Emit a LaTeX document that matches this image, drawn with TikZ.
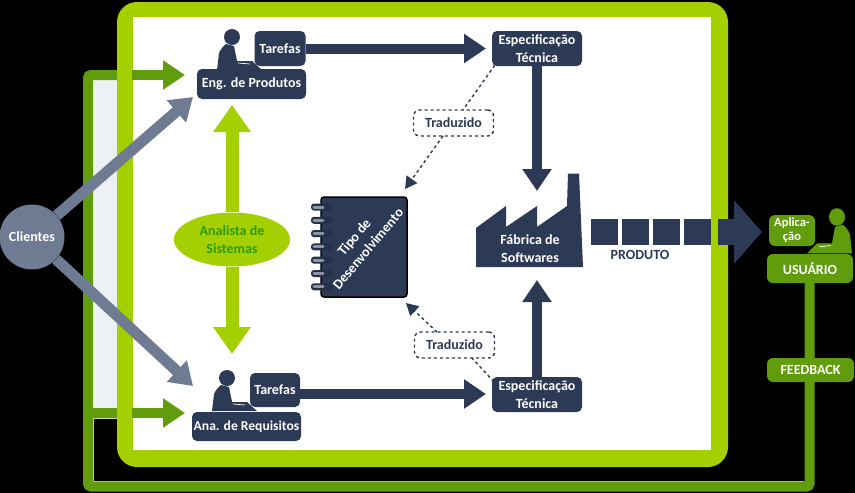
\documentclass[tikz,border=0pt]{standalone}
\usepackage{fontspec}
\setmainfont{Carlito}
\usetikzlibrary{shapes,arrows.meta,positioning,calc}
\definecolor{navy}{HTML}{2D3A55}
\definecolor{lime}{HTML}{A5D000}
\definecolor{leaf}{HTML}{609C0C}
\definecolor{slate}{HTML}{6F7B92}
\definecolor{pale}{HTML}{EEF1F3}
\definecolor{grass}{HTML}{2E9A00}
\tikzset{
    label/.style={
        inner sep=0pt,
        align=center,
        font=\fontsize{14}{18}\selectfont\bfseries
    },
    block/.style={
        label,
        rectangle,
        fill=navy,
        text=white,
        rounded corners=5pt
    },
    greenblock/.style={
        block,
        fill=leaf,
        rounded corners=6pt
    },
    note/.style={
        label,
        rectangle,
        draw=navy,
        dashed,
        line width=1.4pt,
        rounded corners=6pt,
        fill=white,
        text=navy,
        minimum width=80pt,
        minimum height=26pt
    },
    arrow/.style={
        -{Triangle[length=22pt,width=28pt]},
        line width=10pt,
        navy
    },
    clientarrow/.style={
        -{Triangle[length=22pt,width=28pt]},
        line width=11pt,
        slate
    },
    limearrow/.style={
        -{Triangle[length=27pt,width=36pt]},
        line width=13pt,
        lime
    },
    loopline/.style={
        line width=10pt,
        leaf
    },
    looparrow/.style={
        -{Triangle[length=22pt,width=28pt]},
        line width=10pt,
        leaf
    },
    traduz/.style={
        -{Triangle[length=12pt,width=13pt]},
        dashed,
        line width=1.4pt,
        navy
    },
    person/.pic={
        \fill[pic actions] (0,0) circle (8);
        \fill[pic actions] (-15,33) -- (-13,16) .. controls (-11,11) and (-8,9) .. (-6,7)
            -- (2,9) -- (5,24) -- (20,24) -- (30,33) -- cycle;
        \draw[white,line width=0.7pt] (6,26) -- (18,27);
    }
}

\begin{document}
\begin{tikzpicture}[x=1pt,y=-1pt]
    \useasboundingbox[fill=black] (0,0) rectangle (855,493);

    % Feedback loop behind the frame
    \coordinate (loopstart) at (809.5,283);
    \coordinate (loopright) at (809.5,486.5);
    \coordinate (loopbot) at (88,486.5);
    \coordinate (looptop) at (88,75);
    \coordinate (loopmid) at (88,413);
    \coordinate (framea) at (130,75);
    \coordinate (frameb) at (130,413);
    \coordinate (engin) at (185,75);
    \coordinate (anain) at (185,413);
    \fill[pale] (93,80) rectangle (118,408);
    \draw[pale!70!leaf, line width=0.6pt] (118,418.5) -- (93.5,418.5) -- (93.5,481.5) -- (804,481.5);
    \draw[loopline, rounded corners=3pt] (loopstart) -- (loopright) -- (loopbot) -- (looptop) -- (framea);
    \draw[loopline] (loopmid) -- (frameb);

    % Frame
    \fill[lime, rounded corners=20pt] (117,2) rectangle (728,467);
    \fill[white] (133,17) rectangle (711,450);
    \draw[looparrow] (132,75) -- (engin);
    \draw[looparrow] (132,413) -- (anain);

    % Nodes
    \node (eng) [block, minimum width=109pt, minimum height=30pt] at (251.5,84) {Eng. de Produtos};
    \node (tarefasa) [block, minimum width=51pt, minimum height=35pt] at (280,48.5) {Tarefas};
    \node (ana) [block, minimum width=109pt, minimum height=29pt,
        font=\fontsize{13.6}{18}\selectfont\bfseries] at (246.5,426.5) {Ana. de Requisitos};
    \node (tarefasb) [block, minimum width=50pt, minimum height=34pt] at (275,390) {Tarefas};
    \node (espa) [block, minimum width=90pt, minimum height=35pt] at (537,48.5) {Especificação\\Técnica};
    \node (espb) [block, minimum width=90pt, minimum height=35pt] at (537,394.5) {Especificação\\Técnica};
    \node (tradua) [note] at (453.5,123) {Traduzido};
    \node (tradub) [note] at (454.5,345) {Traduzido};
    \node (analista) [label, ellipse, fill=lime, text=grass, minimum width=116pt,
        minimum height=54pt] at (232,239.5) {Analista de\\Sistemas};
    \node (clientes) [label, circle, fill=slate, text=white, minimum size=65pt] at (32,237) {Clientes};

    % People at the desks
    \pic[fill=navy] at (232,37) {person};
    \pic[fill=navy] at (227,378) {person};
    \pic[fill=leaf, xscale=-1, yscale=1.1] at (837,217) {person};

    % Notebook
    \node (caderno) [rectangle, draw=black, fill=navy, line width=1.5pt, rounded corners=3pt,
        minimum width=86pt, minimum height=100pt, inner sep=0pt] at (364,247) {};
    \foreach \n in {0,...,6} {
        \fill[navy!85!black, rounded corners=3pt] (311,203.5+13.3*\n) rectangle (333,210.5+13.3*\n);
        \draw[slate!80!white, line width=3pt, line cap=round] (314,207+13.3*\n) -- (323,207+13.3*\n);
    }
    \node (tipo) [label, rotate=50, text=white] at (361,243) {Tipo de\\Desenvolvimento};

    % Factory
    \fill[navy] (476,267) -- (476,228) -- (506,206) -- (506,227) -- (537,206) -- (537,227)
        -- (567,206) -- (568,173.5) -- (579,173.5) -- (583,267) -- cycle;
    \node (fabrica) [label, text=white] at (530,249) {Fábrica de\\Softwares};

    % Product blocks
    \foreach \x in {591,622,653,684} {
        \fill[navy] (\x,219) rectangle ++(27,26);
    }
    \coordinate (prodstart) at (718,232);
    \coordinate (prodend) at (762,232);
    \draw[-{Triangle[length=28pt,width=62pt]}, line width=26pt, navy] (prodstart) -- (prodend);
    \node (produto) [label, text=navy] at (640,255) {PRODUTO};

    % User side
    \node (aplic) [greenblock, minimum width=46pt, minimum height=31pt,
        font=\fontsize{12.5}{14}\selectfont\bfseries] at (792,230.5) {Aplica-\\ção};
    \node (usuario) [greenblock, minimum width=86pt, minimum height=29pt] at (810,268.5) {USUÁRIO};
    \node (feedback) [greenblock, minimum width=87pt, minimum height=24pt] at (810.5,370) {FEEDBACK};

    % Arrows
    \draw[arrow] (tarefasa.east) -- (486,48.5);
    \draw[arrow] (tarefasb.east) ++(0,4) -- (486,394);
    \draw[arrow] (espa.south) -- (537,191);
    \draw[arrow] (espb.north) -- (537,280);
    \draw[limearrow] (analista.north) -- (232,105);
    \draw[limearrow] (analista.south) -- (232,354);
    \draw[clientarrow] (clientes) -- (193,97);
    \draw[clientarrow] (clientes) -- (193,386);
    \draw[traduz, -] (espa.south west) ++(3,-1) -- (463,110);
    \draw[traduz] (443,136) -- (405,189);
    \draw[traduz, -] (espb.north west) ++(2,5) -- (472,358);
    \draw[traduz] (437,332) -- (406,303);
\end{tikzpicture}
\end{document}
